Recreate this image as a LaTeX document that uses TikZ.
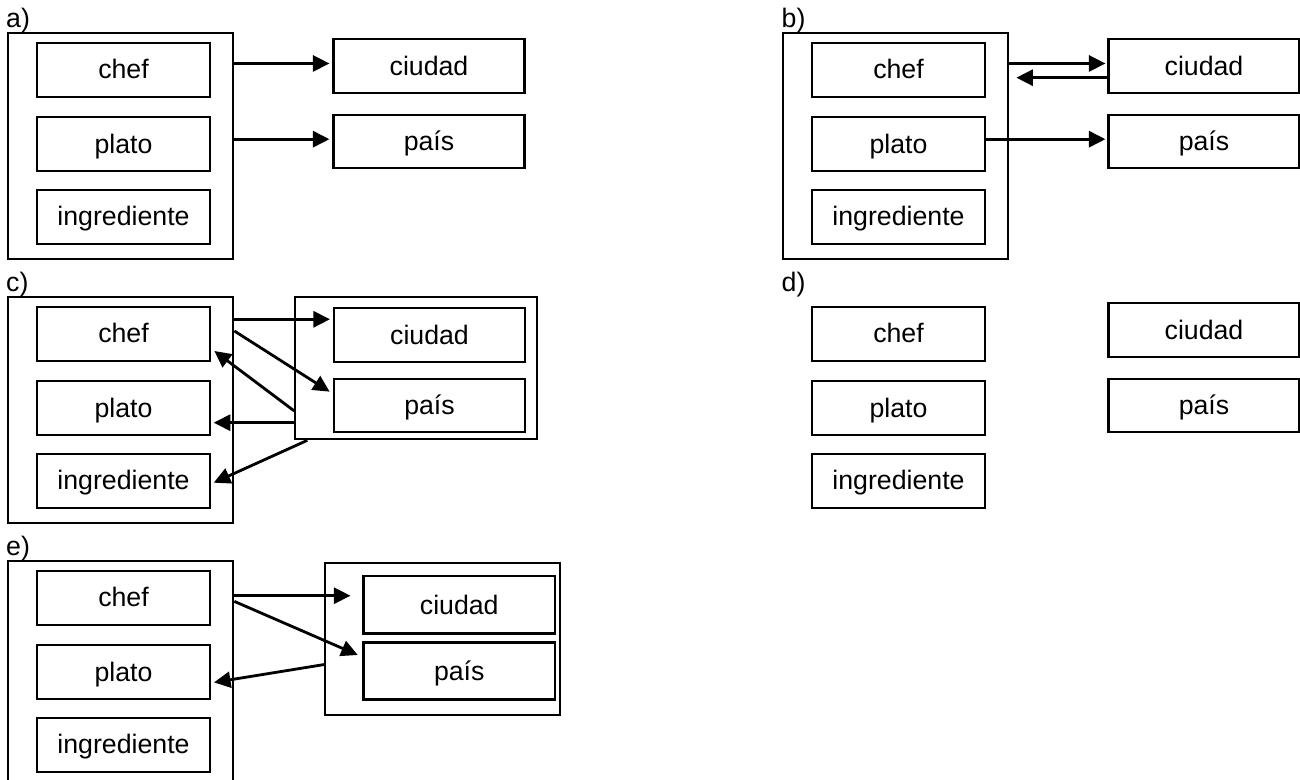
\documentclass[tikz,border=0pt]{standalone}
\usepackage{fontspec}
\setmainfont{Liberation Sans}
\usetikzlibrary{positioning,calc,arrows.meta}

\begin{document}
\begin{tikzpicture}[x=0.1mm,y=-0.1mm,
    field/.style={draw, line width=0.6pt, minimum width=17.36mm, minimum height=5.4mm, inner sep=0pt,
      text height=2.4mm, text depth=0.54mm, font=\fontsize{7.6pt}{9pt}\selectfont},
    target/.style={field, minimum width=19.1mm, minimum height=5.34mm},
    group/.style={draw, line width=0.6pt, minimum width=22.56mm, minimum height=22.66mm, inner sep=0pt},
    tag/.style={anchor=base west, inner sep=0pt, font=\fontsize{7.6pt}{9pt}\selectfont},
    link/.style={-{Triangle[length=1.65mm,width=1.6mm]}, line width=0.8pt}]
    \useasboundingbox (0,0) rectangle (1300,780);
    \clip (0,0) rectangle (1300,780);

    % panel labels
    \node[tag] (tagA) at (5.5,27.2) {a)};
    \node[tag] (tagB) at (781,27.2) {b)};
    \node[tag] (tagC) at (5.5,291.2) {c)};
    \node[tag] (tagD) at (781,291.2) {d)};
    \node[tag] (tagE) at (5.5,555.2) {e)};

    % left column of every panel
    \foreach \p/\x/\y in {A/0/32.7,B/775/32.7,C/0/296.7,D/775/296.7,E/0/560.7}{
        \node[field] (chef\p) at (\x+123.5,\y+37) {chef};
        \node[field] (plato\p) at (\x+123.5,\y+111.5) {plato};
        \node[field] (ingr\p) at (\x+123.5,\y+184) {ingrediente};
    }
    \foreach \p/\x/\y in {A/0/32.7,B/775/32.7,C/0/296.7,E/0/560.7}
        \node[group] (out\p) at (\x+120.5,\y+113.3) {};

    % ciudad and país
    \foreach \p/\x/\y in {A/0/32.7,B/775/32.7,D/775/296.7}{
        \node[target] (ciud\p) at (\x+429,\y+33.3) {ciudad};
        \node[target] (pais\p) at (\x+429,\y+109) {país};
    }
    \node[group, minimum width=24.17mm, minimum height=14.2mm] (grpC) at (416.2,368.3) {};
    \node[target] (ciudC) at (429.5,335) {ciudad};
    \node[target] (paisC) at (429.5,405.5) {país};
    \node[group, minimum width=23.5mm, minimum height=15.24mm] (grpE) at (442.5,639.1) {};
    \node[target, minimum width=19.15mm, minimum height=5.75mm] (ciudE) at (459.25,604.75) {ciudad};
    \node[target, minimum width=19.15mm, minimum height=5.7mm] (paisE) at (459.25,671) {país};

    % a)
    \draw[link] ($(outA.east |- ciudA.west)+(0,-2.5)$) -- ($(ciudA.west)+(-3,-2.5)$);
    \draw[link] ($(outA.east |- paisA.west)+(0,-2.5)$) -- ($(paisA.west)+(-3,-2.5)$);
    % b)
    \draw[link] ($(outB.east |- ciudB.west)+(0,-2.5)$) -- ($(ciudB.west)+(-2,-2.5)$);
    \draw[link] ($(ciudB.west)+(0,11.7)$) -- ($(outB.east |- ciudB.west)+(7,11.7)$);
    \draw[link] ($(platoB.east |- paisB.west)+(0,-2.5)$) -- ($(paisB.west)+(-2,-2.5)$);
    % c)
    \draw[link] ($(outC.east |- ciudC.west)+(0,-15.7)$) -- ($(ciudC.west)+(-3,-15.7)$);
    \draw[link] ($(outC.east |- chefC.east)+(0,-2.7)$) -- ($(paisC.west)+(-3.3,-13.8)$);
    \draw[link] ($(grpC.west |- paisC.west)+(0,5.5)$) -- ($(chefC.east)+(3,17.3)$);
    \draw[link] ($(grpC.west |- platoC.east)+(0,14.5)$) -- ($(platoC.east)+(2.4,14.5)$);
    \draw[link] ($(grpC.south west)+(13,0)$) -- ($(ingrC.east)+(2.4,2)$);
    % e)
    \draw[link] ($(outE.east |- ciudE.west)+(0,-9)$) -- ($(ciudE.west)+(-12,-9)$);
    \draw[link] ($(outE.east |- chefE.east)+(0,3.7)$) -- ($(paisE.west)+(-4.7,-16)$);
    \draw[link] ($(grpE.west |- paisE.west)+(0,-6.4)$) -- ($(platoE.east)+(2.7,10.2)$);
\end{tikzpicture}
\end{document}
